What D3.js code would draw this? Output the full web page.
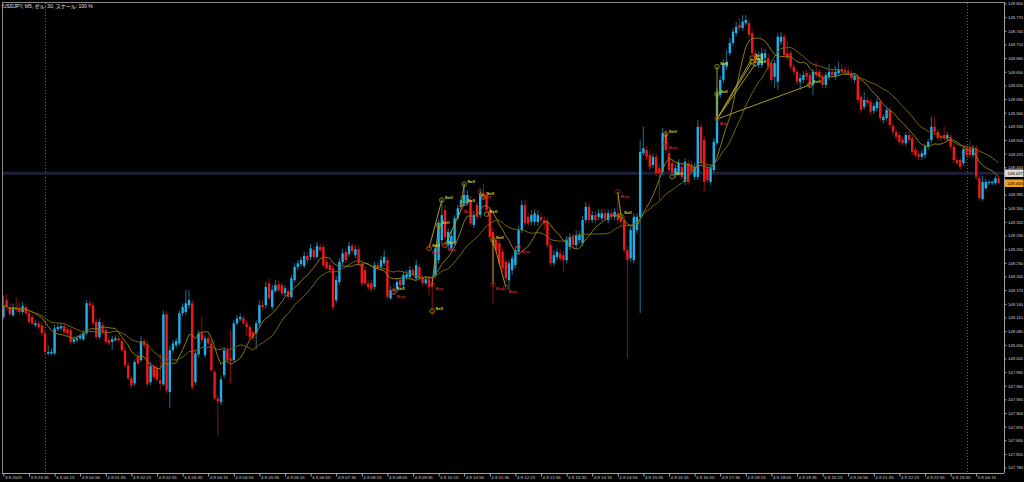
<!DOCTYPE html>
<html><head><meta charset="utf-8">
<script src="https://cdn.jsdelivr.net/npm/d3@7"></script>
<style>html,body{margin:0;padding:0;background:#000;overflow:hidden}</style>
</head><body>
<svg id="c" width="1024" height="482"></svg>
<script>
const title = "USDJPY, M5, ゼル: 30, スケール: 100 %";
// bar index 0 = 4.9 00:00 (M5 bars); first visible bar
const firstBar = -13;
const opens = [148.111,148.148,148.133,148.115,148.133,148.130,148.122,148.133,148.119,148.111,
148.093,148.097,148.093,148.075,148.031,148.031,148.031,148.084,148.086,148.091,
148.084,148.082,148.056,148.060,148.064,148.062,148.075,148.141,148.137,148.100,
148.067,148.093,148.082,148.060,148.056,148.060,148.064,148.058,148.038,148.005,
147.976,147.965,148.023,148.016,148.058,148.051,147.968,148.003,147.998,147.972,
147.963,148.117,147.946,148.038,148.049,148.053,148.119,148.122,148.137,148.141,
147.968,148.029,148.075,148.027,148.064,148.053,147.990,147.932,147.924,147.983,
148.038,148.020,148.016,148.097,148.106,148.108,148.097,148.089,148.078,148.075,
148.097,148.137,148.137,148.185,148.133,148.168,148.183,148.181,148.163,148.168,
148.155,148.192,148.221,148.227,148.223,148.245,148.243,148.258,148.243,148.265,
148.265,148.232,148.225,148.218,148.148,148.188,148.232,148.254,148.249,148.267,
148.247,148.260,148.229,148.214,148.185,148.185,148.177,148.225,148.221,148.229,
148.236,148.152,148.174,148.172,148.192,148.181,148.199,148.199,148.214,148.196,
148.221,148.196,148.185,148.194,148.185,148.203,148.236,148.280,148.346,148.269,
148.262,148.276,148.328,148.353,148.361,148.361,148.368,148.313,148.357,148.335,
148.383,148.379,148.346,148.298,148.280,148.273,148.254,148.232,148.192,148.214,
148.225,148.254,148.302,148.357,148.331,148.320,148.320,148.320,148.331,148.324,
148.320,148.269,148.229,148.243,148.251,148.247,148.236,148.265,148.287,148.269,
148.280,148.273,148.324,148.353,148.324,148.335,148.331,148.328,148.339,148.324,
148.339,148.331,148.339,148.328,148.324,148.258,148.240,148.236,148.302,148.331,
148.471,148.478,148.467,148.445,148.463,148.438,148.430,148.515,148.471,148.449,
148.423,148.427,148.441,148.408,148.449,148.445,148.419,148.419,148.529,148.500,
148.438,148.408,148.434,148.493,148.599,148.632,148.661,148.691,148.713,148.735,
148.753,148.746,148.757,148.757,148.735,148.691,148.665,148.665,148.680,148.680,
148.669,148.639,148.628,148.716,148.727,148.691,148.691,148.661,148.650,148.628,
148.632,148.647,148.643,148.621,148.650,148.650,148.639,148.621,148.639,148.650,
148.639,148.647,148.656,148.654,148.652,148.647,148.632,148.639,148.595,148.573,
148.588,148.584,148.564,148.570,148.584,148.544,148.548,148.566,148.531,148.518,
148.511,148.500,148.493,148.511,148.504,148.478,148.469,148.463,148.467,148.485,
148.500,148.529,148.518,148.509,148.511,148.504,148.507,148.485,148.456,148.456,
148.449,148.482,148.482,148.467,148.482,148.416,148.370,148.394,148.405,148.405,148.405,148.416];
const highs = [148.159,148.161,148.141,148.141,148.155,148.141,148.144,148.139,148.124,148.117,
148.104,148.102,148.100,148.082,148.049,148.042,148.093,148.095,148.097,148.095,
148.089,148.086,148.069,148.071,148.075,148.082,148.148,148.148,148.144,148.108,
148.108,148.100,148.086,148.067,148.069,148.071,148.071,148.064,148.045,148.012,
147.983,148.018,148.034,148.069,148.064,148.060,148.012,148.009,148.005,148.031,
148.126,148.124,148.047,148.060,148.064,148.126,148.141,148.170,148.170,148.148,
148.038,148.082,148.113,148.071,148.071,148.060,147.996,147.939,147.981,148.045,
148.045,148.082,148.104,148.115,148.119,148.115,148.104,148.095,148.082,148.104,
148.148,148.148,148.188,148.196,148.181,148.192,148.190,148.188,148.181,148.174,
148.203,148.229,148.236,148.243,148.254,148.254,148.271,148.265,148.276,148.271,
148.271,148.240,148.232,148.225,148.201,148.240,148.260,148.262,148.276,148.273,
148.269,148.267,148.236,148.223,148.192,148.192,148.232,148.232,148.245,148.258,
148.243,148.179,148.183,148.196,148.199,148.210,148.214,148.223,148.221,148.236,
148.227,148.203,148.201,148.201,148.196,148.271,148.324,148.370,148.357,148.306,
148.302,148.335,148.357,148.377,148.405,148.390,148.377,148.344,148.364,148.394,
148.405,148.386,148.353,148.306,148.289,148.280,148.262,148.240,148.236,148.247,
148.267,148.311,148.368,148.368,148.339,148.346,148.348,148.346,148.339,148.333,
148.328,148.276,148.258,148.262,148.260,148.256,148.289,148.295,148.295,148.302,
148.300,148.333,148.364,148.361,148.344,148.344,148.348,148.348,148.348,148.348,
148.348,148.350,148.386,148.337,148.333,148.267,148.311,148.339,148.339,148.500,
148.529,148.487,148.478,148.471,148.471,148.447,148.526,148.522,148.482,148.458,
148.447,148.458,148.449,148.460,148.458,148.454,148.449,148.544,148.537,148.509,
148.447,148.447,148.504,148.614,148.641,148.678,148.698,148.724,148.746,148.760,
148.768,148.775,148.775,148.764,148.742,148.698,148.694,148.702,148.700,148.689,
148.676,148.676,148.735,148.738,148.733,148.716,148.698,148.667,148.656,148.645,
148.652,148.654,148.650,148.656,148.672,148.656,148.645,148.650,148.667,148.656,
148.663,148.672,148.667,148.661,148.658,148.654,148.647,148.645,148.601,148.606,
148.595,148.590,148.581,148.592,148.590,148.557,148.573,148.573,148.537,148.524,
148.518,148.507,148.518,148.518,148.511,148.485,148.476,148.478,148.491,148.502,
148.551,148.551,148.524,148.515,148.531,148.518,148.513,148.491,148.463,148.463,
148.487,148.489,148.498,148.489,148.489,148.423,148.421,148.414,148.412,148.412,148.421,148.421];
const lows = [148.106,148.126,148.113,148.111,148.122,148.117,148.117,148.115,148.095,148.093,
148.089,148.084,148.069,148.029,148.027,148.027,148.027,148.080,148.082,148.073,
148.069,148.051,148.051,148.056,148.060,148.058,148.071,148.130,148.093,148.062,
148.062,148.073,148.051,148.049,148.038,148.056,148.056,148.034,148.001,147.972,
147.954,147.959,148.005,148.012,148.042,147.959,147.961,147.972,147.968,147.950,
147.959,147.943,147.910,148.031,148.042,148.047,148.113,148.115,148.130,147.950,
147.961,148.023,148.053,148.020,148.047,147.990,147.928,147.851,147.917,147.976,
148.009,147.965,148.012,148.093,148.102,148.093,148.071,148.060,148.058,148.040,
148.091,148.126,148.130,148.148,148.126,148.163,148.166,148.157,148.157,148.150,
148.150,148.188,148.214,148.221,148.218,148.229,148.236,148.236,148.238,148.254,
148.218,148.214,148.207,148.126,148.141,148.181,148.225,148.229,148.243,148.249,
148.240,148.223,148.179,148.179,148.170,148.166,148.170,148.212,148.214,148.223,
148.148,148.148,148.161,148.166,148.174,148.174,148.192,148.192,148.199,148.192,
148.190,148.179,148.181,148.159,148.115,148.196,148.229,148.269,148.280,148.258,
148.256,148.269,148.324,148.346,148.355,148.355,148.311,148.306,148.324,148.328,
148.368,148.339,148.280,148.141,148.254,148.223,148.210,148.188,148.170,148.203,
148.218,148.247,148.295,148.311,148.311,148.313,148.313,148.311,148.317,148.302,
148.262,148.223,148.223,148.236,148.234,148.210,148.229,148.258,148.262,148.262,
148.273,148.267,148.317,148.317,148.317,148.317,148.324,148.322,148.322,148.317,
148.324,148.324,148.317,148.313,148.251,148.020,148.232,148.229,148.295,148.119,
148.465,148.456,148.434,148.438,148.421,148.368,148.423,148.471,148.427,148.421,
148.416,148.421,148.412,148.401,148.401,148.423,148.412,148.412,148.443,148.386,
148.405,148.401,148.427,148.487,148.592,148.625,148.654,148.685,148.707,148.729,
148.740,148.740,148.751,148.724,148.685,148.663,148.658,148.658,148.672,148.654,
148.625,148.614,148.610,148.709,148.680,148.674,148.654,148.643,148.621,148.610,
148.625,148.632,148.614,148.599,148.636,148.632,148.614,148.614,148.632,148.636,
148.632,148.641,148.645,148.643,148.641,148.630,148.625,148.581,148.559,148.566,
148.575,148.555,148.557,148.564,148.542,148.537,148.542,148.526,148.511,148.500,
148.489,148.487,148.487,148.493,148.467,148.460,148.456,148.456,148.460,148.478,
148.493,148.511,148.498,148.498,148.498,148.498,148.478,148.449,148.443,148.434,
148.443,148.460,148.460,148.460,148.412,148.366,148.366,148.390,148.401,148.401,148.401,148.403];
const closes = [148.135,148.135,148.117,148.133,148.128,148.122,148.135,148.119,148.100,148.097,
148.097,148.089,148.075,148.034,148.034,148.034,148.086,148.089,148.091,148.078,
148.075,148.056,148.062,148.064,148.069,148.075,148.141,148.137,148.097,148.067,
148.100,148.078,148.056,148.053,148.062,148.064,148.060,148.038,148.005,147.976,
147.961,148.012,148.009,148.058,148.049,147.963,148.003,147.979,147.974,147.965,
148.117,147.950,148.038,148.053,148.058,148.119,148.133,148.141,148.148,147.957,
148.031,148.075,148.060,148.064,148.053,147.994,147.932,147.926,147.974,148.038,
148.016,148.014,148.097,148.108,148.111,148.097,148.089,148.067,148.064,148.097,
148.137,148.133,148.177,148.152,148.170,148.181,148.170,148.163,148.174,148.155,
148.196,148.221,148.229,148.236,148.245,148.236,148.262,148.243,148.267,148.258,
148.225,148.218,148.214,148.133,148.192,148.232,148.251,148.236,148.267,148.256,
148.260,148.229,148.185,148.185,148.177,148.172,148.225,148.218,148.236,148.243,
148.155,148.170,148.168,148.188,148.181,148.203,148.205,148.214,148.203,148.225,
148.196,148.185,148.194,148.177,148.177,148.262,148.317,148.335,148.287,148.298,
148.289,148.328,148.350,148.368,148.379,148.379,148.317,148.335,148.331,148.383,
148.375,148.346,148.287,148.269,148.258,148.229,148.218,148.196,148.229,148.240,
148.258,148.302,148.357,148.317,148.317,148.335,148.339,148.335,148.324,148.317,
148.269,148.229,148.247,148.254,148.240,148.236,148.280,148.287,148.269,148.291,
148.291,148.324,148.353,148.324,148.335,148.324,148.339,148.339,148.328,148.339,
148.331,148.342,148.324,148.320,148.258,148.236,148.302,148.331,148.331,148.474,
148.482,148.463,148.441,148.463,148.427,148.427,148.515,148.478,148.434,148.427,
148.438,148.449,148.419,148.452,148.408,148.430,148.441,148.529,148.449,148.408,
148.412,148.438,148.496,148.603,148.632,148.669,148.672,148.713,148.738,148.749,
148.746,148.760,148.764,148.731,148.691,148.669,148.680,148.691,148.691,148.661,
148.632,148.669,148.727,148.727,148.687,148.680,148.661,148.650,148.628,148.636,
148.643,148.639,148.621,148.650,148.643,148.639,148.621,148.643,148.650,148.643,
148.650,148.654,148.652,148.650,148.647,148.636,148.641,148.588,148.566,148.588,
148.581,148.562,148.575,148.584,148.548,148.551,148.566,148.533,148.518,148.507,
148.496,148.493,148.511,148.500,148.474,148.467,148.463,148.471,148.485,148.496,
148.529,148.518,148.504,148.504,148.504,148.511,148.485,148.456,148.449,148.441,
148.480,148.467,148.467,148.482,148.419,148.372,148.408,148.408,148.408,148.408,148.416,148.405];

const priceTickLabels = ["148.800","148.770","148.740","148.710","148.680","148.650","148.620","148.590","148.560","148.530",
"148.500","148.470","148.440","148.410","148.380","148.350","148.320","148.290","148.260","148.230","148.200","148.170",
"148.140","148.110","148.080","148.050","148.020","147.990","147.960","147.930","147.900","147.870","147.840","147.810","147.780"];
const timeTickLabels = ["3.9.2025","3.9 23:35","4.9 00:15","4.9 00:55","4.9 01:35","4.9 02:15","4.9 02:55","4.9 03:35","4.9 04:15",
"4.9 04:55","4.9 05:35","4.9 06:15","4.9 06:55","4.9 07:35","4.9 08:15","4.9 08:55","4.9 09:35","4.9 10:15","4.9 10:55",
"4.9 11:35","4.9 12:15","4.9 12:55","4.9 13:35","4.9 14:15","4.9 14:55","4.9 15:35","4.9 16:15","4.9 16:55","4.9 17:35",
"4.9 18:15","4.9 18:55","4.9 19:35","4.9 20:15","4.9 20:55","4.9 21:35","4.9 22:15","4.9 22:55","4.9 23:35","5.9 00:15"];
const timeTickBars = [-13,-5,3,11,19,27,35,43,51,59,67,75,83,91,99,107,115,123,131,139,147,155,163,171,179,187,195,203,211,
219,227,235,243,251,259,267,275,283,291];
const daySeparators = [0, 288];
const levelPrice = 148.427;
const bidPrice = 148.405;
const maFastPeriod = 10, maSlowPeriod = 20;

const markerBars   = [109,109,120,120,121,121,123,124,125,125,130,131,131,136,137,138,140,140,144,148,179,180,194,194,196,210,210,210,221,221,222,239];
const markerPrices = [148.166,148.166,148.262,148.262,148.183,148.124,148.313,148.368,148.269,148.269,148.353,148.403,148.361,148.386,148.375,148.337,148.280,148.183,148.177,148.265,148.386,148.333,148.513,148.493,148.419,148.546,148.601,148.661,148.680,148.672,148.667,148.621];
const markerTypes  = ["Sell","Buy","Sell","Buy","Buy","Sell","Sell","Sell","Sell","Buy","Buy","Sell","Sell","Buy","Sell","Sell","Sell","Buy","Buy","Buy","Buy","Sell","Sell","Buy","Sell","Buy","Sell","Sell","Sell","Sell","Sell","Sell"];
const tradeFrom = [25,25,25,25,25,25,10,9,3,4,17,18,20,23,13];
const tradeTo   = [26,27,28,29,30,31,11,12,7,6,16,16,21,22,14];

const bars = opens.map((o,k)=>({i:firstBar+k,o,h:highs[k],l:lows[k],c:closes[k]}));
function sma(p){return bars.map((b,k)=>{const s=Math.max(0,k-p+1);const w=closes.slice(s,k+1);return {i:b.i,v:d3.mean(w)};});}

const FONT = "Liberation Sans, Arial, sans-serif";
const svg = d3.select("#c");
svg.append("rect").attr("width",1024).attr("height",482).attr("fill","#000");
const x = d3.scaleLinear().domain([0,288]).range([45,966.6]);
const y = d3.scaleLinear().domain([147.78,148.80]).range([467.6,3.5]);
const R = 1004, B = 473;

// separators
svg.selectAll("line.sep").data(daySeparators).enter().append("line")
  .attr("x1",d=>Math.round(x(d))+0.5).attr("x2",d=>Math.round(x(d))+0.5).attr("y1",3).attr("y2",B)
  .attr("stroke","#6a6a6a").attr("stroke-width",1).attr("stroke-dasharray","1,2");
// level line
svg.append("line").attr("x1",2).attr("x2",R).attr("y1",y(levelPrice)).attr("y2",y(levelPrice))
  .attr("stroke","#1f1f3a").attr("stroke-width",3);

// candles
const g = svg.append("g");
g.selectAll("line.w").data(bars).enter().append("line")
  .attr("x1",d=>x(d.i)).attr("x2",d=>x(d.i))
  .attr("y1",d=>y(Math.max(d.h,d.o,d.c))).attr("y2",d=>y(Math.min(d.l,d.o,d.c)))
  .attr("stroke",d=>d.c>=d.o?"#1b6e90":"#8e1010").attr("stroke-width",1);
g.selectAll("rect.b").data(bars).enter().append("rect")
  .attr("x",d=>x(d.i)-1.2).attr("width",2.4)
  .attr("y",d=>y(Math.max(d.o,d.c)))
  .attr("height",d=>Math.max(1,y(Math.min(d.o,d.c))-y(Math.max(d.o,d.c))))
  .attr("fill",d=>d.c>=d.o?"#1fb0ea":"#f01818");

// moving averages
const line = d3.line().x(d=>x(d.i)).y(d=>y(d.v));
svg.append("path").datum(sma(maSlowPeriod)).attr("d",line).attr("fill","none").attr("stroke","#756407").attr("stroke-width",1);
svg.append("path").datum(sma(maFastPeriod)).attr("d",line).attr("fill","none").attr("stroke","#8c7a0d").attr("stroke-width",1);

// trades
const markers = markerBars.map((b,k)=>({i:b,p:markerPrices[k],t:markerTypes[k]}));
svg.selectAll("line.tr").data(tradeFrom.map((f,k)=>[markers[f],markers[tradeTo[k]]])).enter().append("line")
  .attr("x1",d=>x(d[0].i)).attr("y1",d=>y(d[0].p)).attr("x2",d=>x(d[1].i)).attr("y2",d=>y(d[1].p))
  .attr("stroke","#a39b20").attr("stroke-width",1);
svg.selectAll("circle.m").data(markers).enter().append("circle")
  .attr("cx",d=>x(d.i)).attr("cy",d=>y(d.p)).attr("r",2.3).attr("fill","none")
  .attr("stroke",d=>d.t==="Sell"?"#a09a1e":"#a01818").attr("stroke-width",0.8);
svg.selectAll("text.m").data(markers).enter().append("text")
  .attr("x",d=>x(d.i)+3).attr("y",d=>d.t==="Sell"?y(d.p)-1.5:y(d.p)+6)
  .attr("font-family",FONT).attr("font-size",4.4).attr("font-weight","bold")
  .attr("fill",d=>d.t==="Sell"?"#d8d830":"#d02020").text(d=>d.t);

// frame
svg.append("line").attr("x1",2.5).attr("x2",2.5).attr("y1",2).attr("y2",B).attr("stroke","#8a8a8a");
svg.append("line").attr("x1",2).attr("x2",R).attr("y1",2.5).attr("y2",2.5).attr("stroke","#8a8a8a");

// axes
const yAxis = d3.axisRight(y).tickValues(priceTickLabels.map(Number)).tickFormat((d,k)=>priceTickLabels[k]).tickSize(2).tickPadding(1.5);
const ya = svg.append("g").attr("transform",`translate(${R+0.5},0)`).call(yAxis);
ya.select(".domain").attr("stroke","#a0a0a0").attr("d",`M0,2V${B}`);
ya.selectAll(".tick line").attr("stroke","#a0a0a0");
ya.selectAll("text").attr("fill","#d0d0d0").attr("font-size",4.2).attr("font-family",FONT);

const xAxis = d3.axisBottom(x).tickValues(timeTickBars).tickFormat((d,k)=>timeTickLabels[k]).tickSize(3).tickPadding(0);
const xa = svg.append("g").attr("transform",`translate(0,${B+0.5})`).call(xAxis);
xa.select(".domain").attr("stroke","#a0a0a0").attr("d",`M2,0H${R}`);
xa.selectAll(".tick line").attr("stroke","#a0a0a0");
xa.selectAll("text").attr("fill","#d0d0d0").attr("font-size",4.4).attr("font-family",FONT)
  .attr("text-anchor","start").attr("dx",1).attr("dy","0.55em");

// price labels
function priceBox(p,fill){
  const gg = svg.append("g").attr("transform",`translate(${R+1},${y(p)})`);
  gg.append("rect").attr("x",0).attr("y",-3.8).attr("width",18.5).attr("height",7.6).attr("fill",fill);
  gg.append("text").attr("x",2.5).attr("y",0).attr("dy","0.35em").attr("font-size",4.2)
    .attr("font-family",FONT).attr("fill","#000").text(p.toFixed(3));
}
priceBox(levelPrice,"#d8d8d8");
priceBox(bidPrice,"#f0a020");

svg.append("text").attr("x",3).attr("y",7.5).attr("font-size",5).attr("fill","#e0e0e0")
  .attr("font-family","Liberation Sans, Noto Sans CJK JP, sans-serif").text(title);
</script>
</body></html>
